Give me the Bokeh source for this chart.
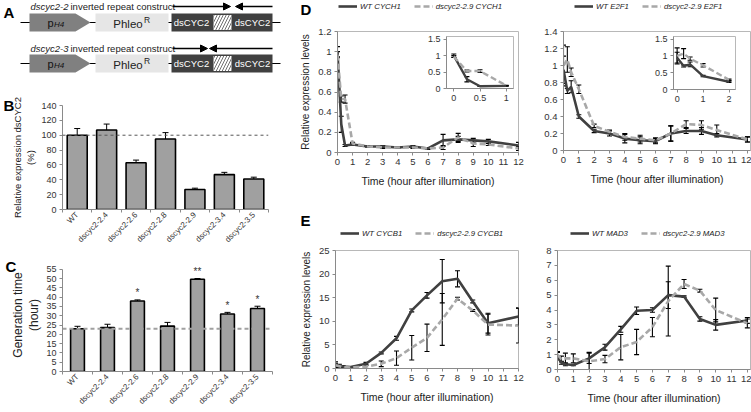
import math
from bokeh.plotting import figure
from bokeh.models import (Range1d, LinearAxis, FixedTicker, ColumnDataSource,
                          Whisker, TeeHead, Span, Legend, LegendItem, Arrow, NormalHead)
from bokeh.embed import file_html
from bokeh.resources import INLINE
from bokeh.core.properties import value

FONT = "Liberation Sans"
SX = 1.0
SY = 1.0
PAGE_W, PAGE_H = 751, 412

# ---------------- data ----------------
lines = ["WT", "dscyc2-2.4", "dscyc2-2.6", "dscyc2-2.8", "dscyc2-2.9", "dscyc2-3.4", "dscyc2-3.5"]
expr = [100, 107, 63, 95, 27, 47, 41]
expr_err = [9, 8, 3.5, 8.5, 1.7, 3, 2.5]
expr_ref = 100
gen_time = [23.0, 23.6, 37.9, 24.4, 49.6, 30.9, 33.9]
gen_err = [1.3, 1.8, 0.6, 2.0, 0.4, 0.9, 1.2]
gen_sig = ["", "", "*", "", "**", "*", "*"]
gen_ref = 23
expr_ticks = [0, 20, 40, 60, 80, 100, 120, 140]
gen_ticks = [0, 5, 10, 15, 20, 25, 30, 35, 40, 45, 50, 55]

hours = [0, 0.25, 0.5, 1, 2, 3, 4, 5, 6, 7, 8, 9, 10, 12]
hour_ticks = list(range(13))

cych1_wt = [1.0, 0.28, 0.07, 0.08, 0.06, 0.06, 0.05, 0.06, 0.04, 0.12, 0.13, 0.12, 0.11, 0.07]
cych1_wt_err = [0.05, 0.08, 0.01, 0.01, 0.005, 0.01, 0.005, 0.01, 0.01, 0.06, 0.03, 0.02, 0.02, 0.03]
cych1_mu = [0.97, 0.53, 0.53, 0.09, 0.06, 0.05, 0.05, 0.05, 0.04, 0.05, 0.15, 0.09, 0.08, 0.04]
cych1_mu_err = [0.03, 0.03, 0.04, 0.01, 0.005, 0.01, 0.005, 0.01, 0.01, 0.02, 0.04, 0.03, 0.01, 0.02]

e2f1_wt = [0.95, 0.70, 0.75, 0.40, 0.23, 0.20, 0.14, 0.12, 0.11, 0.20, 0.23, 0.23, 0.18, 0.13]
e2f1_wt_err = [0.16, 0.03, 0.07, 0.02, 0.02, 0.03, 0.05, 0.04, 0.03, 0.09, 0.03, 0.04, 0.02, 0.03]
e2f1_mu = [1.0, 1.07, 0.92, 0.72, 0.29, 0.22, 0.16, 0.14, 0.12, 0.20, 0.31, 0.30, 0.24, 0.13]
e2f1_mu_err = [0.24, 0.15, 0.05, 0.05, 0.02, 0.02, 0.04, 0.04, 0.03, 0.09, 0.04, 0.05, 0.06, 0.03]

cycb1_wt = [0.8, 0.6, 0.4, 0.3, 1.0, 3.3, 6.4, 12.3, 15.5, 18.5, 19.0, 14.2, 9.6, 11.0]
cycb1_wt_err = [0.6, 0.3, 0.2, 0.1, 0.3, 0.2, 0.4, 0.3, 0.6, 4.6, 1.7, 0.3, 2.1, 1.8]
cycb1_mu = [0.7, 0.5, 0.3, 0.2, 0.4, 1.0, 2.2, 4.4, 6.5, 10.4, 14.8, 12.3, 9.3, 9.1]
cycb1_mu_err = [0.3, 0.2, 0.1, 0.1, 0.4, 0.6, 1.5, 2.6, 2.9, 5.5, 0.3, 0.2, 2.2, 3.7]

mad3_wt = [0.9, 0.45, 0.35, 0.3, 0.75, 1.5, 2.7, 3.95, 4.0, 5.0, 4.9, 3.4, 3.0, 3.3]
mad3_wt_err = [0.25, 0.1, 0.1, 0.05, 0.35, 0.2, 0.2, 0.25, 0.15, 0.9, 0.05, 0.15, 0.35, 0.2]
mad3_mu = [1.0, 0.7, 0.75, 0.75, 0.55, 0.7, 1.5, 1.85, 2.85, 4.6, 5.75, 5.3, 4.0, 3.1]
mad3_mu_err = [0.2, 0.2, 0.35, 0.3, 0.6, 0.25, 0.85, 0.85, 0.65, 2.35, 0.3, 0.1, 0.8, 0.3]

d1_yticks = [0, 0.2, 0.4, 0.6, 0.8, 1, 1.2]
d1_ylabels = ["0", "0.2", "0.4", "0.6", "0.8", "1", "1.2"]
d2_yticks = [0, 0.2, 0.4, 0.6, 0.8, 1, 1.2, 1.4]
d2_ylabels = ["0", "0.2", "0.4", "0.6", "0.8", "1", "1.2", "1.4"]
e1_yticks = [0, 5, 10, 15, 20, 25]
e2_yticks = [0, 1, 2, 3, 4, 5, 6, 7, 8]
inset_yticks = [0, 0.5, 1, 1.5]
inset_ylabels = ["0", "0.5", "1", "1.5"]
inset1_xticks = [0, 0.5, 1]
inset1_xlabels = ["0", "0.5", "1"]
inset2_xticks = [0, 1, 2]
inset2_xlabels = ["0", "1", "2"]

# construct diagram (panel A), positions along the drawing
construct_names = ["dscyc2-2", "dscyc2-3"]
construct_rest = "inverted repeat construct"
row_y = [22, 63]
title_y = [6, 48]
backbone = (20, 280)
promoter = (29, 75, 90)
phleo = (95, 168)
ds_block = (171, 272)
spacer = (213, 231)
ds_label_x = [191, 252]
fwd_arrows = [(172, 230), (172, 207)]
rev_arrows = [(272, 235), (272, 209)]

# panel letters and legend placement (page pixels)
panel_letters = ["B", "C", "D", "E"]
letter_x = [3, 5, 300, 300]
letter_y = [96, 257, 0, 211]
legend_genes = ["CYCH1", "E2F1", "CYCB1", "MAD3"]
legend_x = [338, 574, 340, 570]
legend_y = [6, 6, 233, 233]


def X(v):
    return int(round(v * SX))


def Y(v):
    return int(round(v * SY))


def fs(v):
    return f"{v * SY:.1f}px"


roots = []


def place(p, box):
    p.styles = {"position": "absolute", "left": f"{X(box[0])}px", "top": f"{Y(box[1])}px"}
    roots.append(p)


def mk(box, frame, **kw):
    x0, y0, x1, y1 = box
    fx0, fy0, fx1, fy1 = frame
    p = figure(width=X(x1) - X(x0), height=Y(y1) - Y(y0),
               min_border_left=X(fx0) - X(x0), min_border_right=X(x1) - X(fx1),
               min_border_top=Y(fy0) - Y(y0), min_border_bottom=Y(y1) - Y(fy1),
               output_backend="svg", toolbar_location=None, **kw)
    p.grid.visible = False
    p.outline_line_color = None
    p.background_fill_color = "white"
    p.border_fill_color = "white"
    return p


def style_axis(ax, size):
    ax.axis_line_color = "#8a8a8a"
    ax.major_tick_line_color = "#8a8a8a"
    ax.minor_tick_line_color = None
    ax.major_tick_out = 3
    ax.major_tick_in = 0
    ax.major_label_standoff = 3
    ax.major_label_text_font = FONT
    ax.major_label_text_font_size = size
    ax.major_label_text_color = "#333333"
    ax.axis_label_text_font = FONT
    ax.axis_label_text_font_style = "normal"
    ax.axis_label_text_color = "#222222"


# ---------------- panel A ----------------
A_box = (0, 0, 297, 86)
pA = figure(width=X(297), height=Y(86), x_range=Range1d(0, 297), y_range=Range1d(86, 0),
            min_border=0, output_backend="svg", toolbar_location=None,
            x_axis_type=None, y_axis_type=None)
pA.grid.visible = False
pA.outline_line_color = None
h = 9
pA.segment(x0=[backbone[0]] * 2, x1=[backbone[1]] * 2, y0=row_y, y1=row_y, line_color="black", line_width=1)
pA.patches(xs=[[promoter[0], promoter[1], promoter[2], promoter[1], promoter[0]] for _ in row_y],
           ys=[[y - h, y - h, y, y + h, y + h] for y in row_y],
           fill_color="#808080", line_color=None)
pA.quad(left=[phleo[0]] * 2, right=[phleo[1]] * 2, top=[y - h for y in row_y], bottom=[y + h for y in row_y],
        fill_color="#e6e6e6", line_color=None)
pA.quad(left=[ds_block[0]] * 2, right=[ds_block[1]] * 2, top=[y - h for y in row_y], bottom=[y + h for y in row_y],
        fill_color="#404040", line_color=None)
pA.quad(left=[spacer[0]] * 2, right=[spacer[1]] * 2, top=[y - h + 1.5 for y in row_y],
        bottom=[y + h - 1.5 for y in row_y], fill_color="white", line_color=None,
        hatch_pattern="/", hatch_color="#707070", hatch_scale=6, hatch_weight=1)
for y in row_y:
    pA.text(x=ds_label_x, y=[y, y], text=["dsCYC2", "dsCYC2"], text_color="white",
            text_font=value(FONT), text_font_size=value(fs(9.5)), text_align="center", text_baseline="middle")
    pA.text(x=[(phleo[0] + phleo[1]) / 2 - 4], y=[y + 1], text=["Phleo"], text_color="#222222",
            text_font=value(FONT), text_font_size=value(fs(11.5)), text_align="center", text_baseline="middle")
    pA.text(x=[(phleo[0] + phleo[1]) / 2 + 12], y=[y - 3], text=["R"], text_color="#222222",
            text_font=value(FONT), text_font_size=value(fs(8.5)), text_align="left", text_baseline="middle")
    pA.text(x=[47], y=[y], text=["p"], text_color="#111111",
            text_font=value(FONT), text_font_size=value(fs(11)), text_align="left", text_baseline="middle")
    pA.text(x=[53.5], y=[y + 2], text=["H4"], text_color="#111111", text_font_style="italic",
            text_font=value(FONT), text_font_size=value(fs(8)), text_align="left", text_baseline="middle")
pA.text(x=[30, 30], y=title_y, text=construct_names, text_font_style="italic", text_color="#222222",
        text_font=value(FONT), text_font_size=value(fs(9.5)), text_align="left", text_baseline="middle")
pA.text(x=[70, 70], y=title_y, text=[construct_rest] * 2, text_color="#222222",
        text_font=value(FONT), text_font_size=value(fs(9.5)), text_align="left", text_baseline="middle")
for ty, (a0, a1), (b0, b1) in zip(title_y, fwd_arrows, rev_arrows):
    pA.add_layout(Arrow(x_start=a0, y_start=ty, x_end=a1, y_end=ty, line_width=1.5, line_color="black",
                        end=NormalHead(size=7, fill_color="black", line_color="black")))
    pA.add_layout(Arrow(x_start=b0, y_start=ty, x_end=b1, y_end=ty, line_width=1.5, line_color="black",
                        end=NormalHead(size=7, fill_color="black", line_color="black")))
pA.text(x=[3], y=[3], text=["A"], text_font=value(FONT), text_font_style="bold",
        text_font_size=value(fs(15)), text_baseline="top", text_align="left")
place(pA, A_box)


# ---------------- panels B and C ----------------
def bar_panel(box, frame, vals, errs, yticks, ytop, ylabel, ylab_size, bar_w, ref, ref_color, ref_dash, ref_w, sig):
    n = len(lines)
    centers = [i + 0.5 for i in range(n)]
    p = mk(box, frame, x_range=Range1d(0, n), y_range=Range1d(0, ytop))
    src = ColumnDataSource(dict(x=centers, top=vals, up=[v + e for v, e in zip(vals, errs)],
                                lo=[v - e for v, e in zip(vals, errs)], sig=sig))
    p.vbar(x="x", top="top", width=bar_w, source=src,
           fill_color="#a0a0a0", line_color="black", line_width=1.6)
    p.add_layout(Whisker(base="x", upper="up", lower="lo", source=src,
                         line_color="black", line_width=1,
                         upper_head=TeeHead(size=6, line_color="black", line_width=1),
                         lower_head=TeeHead(size=6, line_color="black", line_width=1)))
    p.add_layout(Span(location=ref, dimension="width", line_color=ref_color, line_dash=ref_dash, line_width=ref_w))
    p.text(x="x", y="up", text="sig", source=src, text_align="center",
           text_baseline="middle", y_offset=-7, text_font=value(FONT), text_font_size=value(fs(10)),
           text_color="#333333")
    ax = p.xaxis[0]
    style_axis(ax, "0px")
    ax.ticker = FixedTicker(ticks=list(range(n + 1)))
    ax.major_label_standoff = 0
    ax.major_label_text_color = None
    cax = LinearAxis()
    style_axis(cax, fs(8))
    cax.ticker = FixedTicker(ticks=centers)
    cax.major_label_overrides = dict(zip(centers, lines))
    cax.axis_line_color = None
    cax.major_tick_line_color = None
    cax.major_tick_out = 0
    cax.major_label_orientation = math.pi / 4
    cax.major_label_standoff = 1
    p.add_layout(cax, "below")
    ya = p.yaxis[0]
    style_axis(ya, fs(9))
    ya.ticker = FixedTicker(ticks=yticks)
    ya.bounds = (yticks[0], yticks[-1])
    ya.axis_label = ylabel
    ya.axis_label_text_font_size = ylab_size
    ya.axis_label_standoff = 2
    place(p, box)
    return p


B_box, B_frame = (0, 86, 297, 253), (62, 105, 268, 209)
C_box, C_frame = (0, 253, 297, 412), (62, 258, 272, 374)   # frame top lifted so the ** marks are not clipped
c_top = gen_ticks[-1] * (C_frame[3] - C_frame[1]) / (374 - 269)
pB = bar_panel(B_box, B_frame, expr, expr_err, expr_ticks, expr_ticks[-1], "Relative expression dsCYC2\n(%)",
               fs(9.5), 0.68, expr_ref, "#555555", "3 3", 1, [""] * 7)
pC = bar_panel(C_box, C_frame, gen_time, gen_err, gen_ticks, c_top, "Generation time\n(hour)", fs(12),
               0.46, gen_ref, "#a0a0a0", "4 3", 1.8, gen_sig)


# ---------------- panels D and E ----------------
def line_panel(box, frame, xr, yticks, ylabels, wt, wt_e, mu, mu_e, ylabel):
    yr = (0, yticks[-1])
    p = mk(box, frame, x_range=Range1d(*xr), y_range=Range1d(*yr))
    p.outline_line_color = "#b8b8b8"
    s_wt = ColumnDataSource(dict(x=hours, y=wt, up=[v + e for v, e in zip(wt, wt_e)],
                                 lo=[v - e for v, e in zip(wt, wt_e)]))
    s_mu = ColumnDataSource(dict(x=hours, y=mu, up=[v + e for v, e in zip(mu, mu_e)],
                                 lo=[v - e for v, e in zip(mu, mu_e)]))
    p.line("x", "y", source=s_wt, line_color="#404040", line_width=2.6)
    p.line("x", "y", source=s_mu, line_color="#a8a8a8", line_width=2.6, line_dash="6 3")
    for s in (s_wt, s_mu):
        p.add_layout(Whisker(base="x", upper="up", lower="lo", source=s, line_color="black", line_width=1.1,
                             upper_head=TeeHead(size=5, line_color="black", line_width=1.1),
                             lower_head=TeeHead(size=5, line_color="black", line_width=1.1)))
    xa = p.xaxis[0]
    style_axis(xa, fs(9.5))
    xa.ticker = FixedTicker(ticks=hour_ticks)
    xa.axis_label = "Time (hour after illumination)"
    xa.axis_label_text_font_size = fs(10.5)
    xa.axis_label_standoff = 7
    ya = p.yaxis[0]
    style_axis(ya, fs(9.5))
    ya.ticker = FixedTicker(ticks=yticks)
    ya.major_label_overrides = dict(zip(yticks, ylabels))
    if ylabel:
        ya.axis_label = ylabel
        ya.axis_label_text_font_size = fs(10)
        ya.axis_label_standoff = 4
    place(p, box)
    return p


def inset_panel(box, frame, xr, xticks, xlabels, tmax, wt, wt_e, mu, mu_e):
    yr = (0, 1.58)
    p = mk(box, frame, x_range=Range1d(*xr), y_range=Range1d(*yr))
    p.outline_line_color = "#b8b8b8"
    idx = [i for i, t in enumerate(hours) if t <= tmax]
    s_wt = ColumnDataSource(dict(x=[hours[i] for i in idx], y=[wt[i] for i in idx],
                                 up=[wt[i] + wt_e[i] for i in idx], lo=[wt[i] - wt_e[i] for i in idx]))
    s_mu = ColumnDataSource(dict(x=[hours[i] for i in idx], y=[mu[i] for i in idx],
                                 up=[mu[i] + mu_e[i] for i in idx], lo=[mu[i] - mu_e[i] for i in idx]))
    p.line("x", "y", source=s_wt, line_color="#404040", line_width=2.4)
    p.line("x", "y", source=s_mu, line_color="#a8a8a8", line_width=2.4, line_dash="6 3")
    for s in (s_wt, s_mu):
        p.add_layout(Whisker(base="x", upper="up", lower="lo", source=s, line_color="black", line_width=1.1,
                             upper_head=TeeHead(size=5, line_color="black", line_width=1.1),
                             lower_head=TeeHead(size=5, line_color="black", line_width=1.1)))
    xa = p.xaxis[0]
    style_axis(xa, fs(9))
    xa.ticker = FixedTicker(ticks=xticks)
    xa.major_label_overrides = dict(zip(xticks, xlabels))
    ya = p.yaxis[0]
    style_axis(ya, fs(9))
    ya.ticker = FixedTicker(ticks=inset_yticks)
    ya.major_label_overrides = dict(zip(inset_yticks, inset_ylabels))
    place(p, box)
    return p


D1_box, D1_frame = (297, 0, 540, 205), (334, 31, 518, 152)
D2_box, D2_frame = (540, 0, 751, 205), (563, 31, 750, 150)
E1_box, E1_frame = (297, 205, 540, 412), (333, 250, 518, 368)
E2_box, E2_frame = (540, 205, 751, 412), (557, 250, 750, 369)
I1_box, I1_frame = (424, 34, 516, 103), (441, 36, 513, 90)
I2_box, I2_frame = (651, 34, 741, 104), (668, 36, 735, 91)

pD1 = line_panel(D1_box, D1_frame, (0, 12), d1_yticks, d1_ylabels, cych1_wt, cych1_wt_err, cych1_mu,
                 cych1_mu_err, "Relative expression levels")
pD2 = line_panel(D2_box, D2_frame, (0, 12.2), d2_yticks, d2_ylabels, e2f1_wt, e2f1_wt_err, e2f1_mu,
                 e2f1_mu_err, None)
pE1 = line_panel(E1_box, E1_frame, (0, 12), e1_yticks, [str(t) for t in e1_yticks], cycb1_wt, cycb1_wt_err,
                 cycb1_mu, cycb1_mu_err, "Relative expression levels")
pE2 = line_panel(E2_box, E2_frame, (0, 12.2), e2_yticks, [str(t) for t in e2_yticks], mad3_wt, mad3_wt_err,
                 mad3_mu, mad3_mu_err, None)

iD1 = inset_panel(I1_box, I1_frame, (-0.14, 1.14), inset1_xticks, inset1_xlabels, 1,
                  cych1_wt, cych1_wt_err, cych1_mu, cych1_mu_err)
iD2 = inset_panel(I2_box, I2_frame, (-0.14, 2.25), inset2_xticks, inset2_xlabels, 2,
                  e2f1_wt, e2f1_wt_err, e2f1_mu, e2f1_mu_err)

# ---------------- transparent overlay: panel letters and legends ----------------
ov = figure(width=X(PAGE_W), height=Y(PAGE_H), x_range=Range1d(0, PAGE_W), y_range=Range1d(PAGE_H, 0),
            min_border=0, output_backend="svg", toolbar_location=None, x_axis_type=None, y_axis_type=None)
ov.grid.visible = False
ov.outline_line_color = None
ov.background_fill_alpha = 0
ov.border_fill_alpha = 0
ov.text(x=letter_x, y=letter_y, text=panel_letters, text_font=value(FONT), text_font_style="bold",
        text_font_size=value(fs(15)), text_baseline="top", text_align="left", text_color="black")
legend_series = [(cych1_wt, cych1_mu), (e2f1_wt, e2f1_mu), (cycb1_wt, cycb1_mu), (mad3_wt, mad3_mu)]
for gene, lx, ly, (wt_s, mu_s) in zip(legend_genes, legend_x, legend_y, legend_series):
    # hidden copies of the series: they only provide the legend samples
    r_wt = ov.line(x=hours, y=wt_s, line_color="#404040", line_width=2.6, visible=False)
    r_mu = ov.line(x=hours, y=mu_s, line_color="#a8a8a8", line_width=2.6, line_dash="6 3", visible=False)
    leg = Legend(items=[LegendItem(label="WT " + gene, renderers=[r_wt]),
                        LegendItem(label="dscyc2-2.9 " + gene, renderers=[r_mu])],
                 orientation="horizontal", location=(X(lx), Y(PAGE_H - ly - 5)), margin=0, padding=0,
                 spacing=X(13), glyph_width=X(19), glyph_height=Y(10), label_height=Y(10),
                 label_standoff=3, label_text_font=FONT, label_text_font_size=fs(7.8),
                 label_text_font_style="italic", label_text_color="#222222",
                 inactive_fill_alpha=0, border_line_color=None, background_fill_alpha=0)
    ov.add_layout(leg, "center")
place(ov, (0, 0, PAGE_W, PAGE_H))

open("out.html", "w").write(file_html(roots, INLINE, title="dscyc2 figure"))
